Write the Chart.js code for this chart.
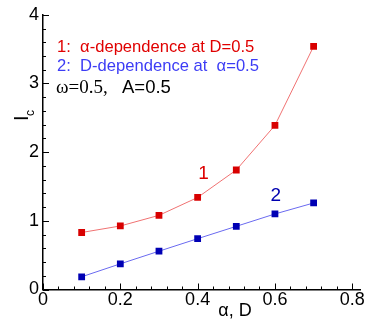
<!DOCTYPE html>
<html>
<head>
<meta charset="utf-8">
<script src="https://cdn.jsdelivr.net/npm/chart.js@4/dist/chart.umd.min.js"></script>
<style>
  html, body { margin: 0; padding: 0; background: #fff; }
  #wrap { position: relative; width: 368px; height: 327px; }
</style>
</head>
<body>
<div id="wrap"><canvas id="graphCanvas"></canvas></div>
<script>
// values
const xValues = [0.1, 0.2, 0.3, 0.4, 0.5, 0.6, 0.7];
const alphaDependence = [0.83, 0.925, 1.08, 1.34, 1.74, 2.39, 3.54];  // curve 1
const dDependence = [0.185, 0.374, 0.558, 0.74, 0.92, 1.10, 1.26];    // curve 2
const xTicks = [0, 0.2, 0.4, 0.6, 0.8];
const yTicks = [0, 1, 2, 3, 4];

// curve numbers, placed in data coordinates
const curveLabels = [
    { text: '1', x: 0.415, y: 1.68, color: '#dd0000' },
    { text: '2', x: 0.602, y: 1.37, color: '#0000b0' }
];

const sans = '"Liberation Sans", Arial, sans-serif';
const serif = '"Liberation Serif", "Times New Roman", serif';

function toPoints(ys) {
    return xValues.map((x, i) => ({ x: x, y: ys[i] }));
}

// inward tick marks, axis titles and the text block
const decorations = {
    id: 'decorations',
    afterDraw(chart) {
        const c = chart.ctx;
        const xs = chart.scales.x;
        const ys = chart.scales.y;
        const x0 = xs.getPixelForValue(0);
        const y0 = ys.getPixelForValue(0);
        c.save();
        c.strokeStyle = '#000';
        c.lineWidth = 1;
        c.beginPath();
        for (let i = 0; i <= 20; i++) {
            const v = i * 0.04;
            const px = Math.round(xs.getPixelForValue(v)) + 0.5;
            const len = i % 5 === 0 ? 6 : 3;
            c.moveTo(px, y0);
            c.lineTo(px, y0 - len);
        }
        for (let i = 0; i <= 20; i++) {
            const v = i * 0.2;
            const py = Math.round(ys.getPixelForValue(v)) + 0.5;
            const len = i % 5 === 0 ? 6 : 3;
            c.moveTo(x0, py);
            c.lineTo(x0 + len, py);
        }
        c.stroke();

        // curve numbers
        c.font = '19px ' + sans;
        c.textAlign = 'center';
        c.textBaseline = 'middle';
        curveLabels.forEach(l => {
            c.fillStyle = l.color;
            c.fillText(l.text, xs.getPixelForValue(l.x), ys.getPixelForValue(l.y));
        });

        // x title
        c.fillStyle = '#000';
        c.font = '18px ' + sans;
        c.textAlign = 'center';
        c.textBaseline = 'alphabetic';
        c.fillText('α, D', 235, 316);

        // y title I_c
        c.save();
        c.translate(28, 121);
        c.rotate(-Math.PI / 2);
        c.textAlign = 'left';
        c.font = '20px ' + sans;
        c.fillText('I', 0, 0);
        c.font = '12px ' + sans;
        c.fillText('c', 5, 6);
        c.restore();

        // text block
        c.textAlign = 'left';
        c.font = '16.6px ' + sans;
        c.fillStyle = '#e00000';
        c.fillText('1:  α-dependence at D=0.5', 57, 52);
        c.fillStyle = '#3c3cf5';
        c.fillText('2:  D-dependence at  α=0.5', 57, 71);
        c.fillStyle = '#000';
        c.font = '19px ' + serif;
        c.fillText('ω=0.5,', 56, 93);
        c.font = '18.5px ' + sans;
        c.fillText('A=0.5', 122, 93);
        c.restore();
    }
};

new Chart(document.getElementById('graphCanvas'), {
    type: 'scatter',
    data: {
        datasets: [
            {
                label: 'alpha-dependence at D=0.5',
                data: toPoints(alphaDependence),
                showLine: true,
                borderColor: '#f07272',
                borderWidth: 1,
                backgroundColor: '#d80000',
                pointBackgroundColor: '#d80000',
                pointBorderColor: '#d80000',
                pointBorderWidth: 0,
                pointStyle: 'rect',
                pointRadius: 4.8
            },
            {
                label: 'D-dependence at alpha=0.5',
                data: toPoints(dDependence),
                showLine: true,
                borderColor: '#6a6af0',
                borderWidth: 1,
                backgroundColor: '#0000b4',
                pointBackgroundColor: '#0000b4',
                pointBorderColor: '#0000b4',
                pointBorderWidth: 0,
                pointStyle: 'rect',
                pointRadius: 4.8
            }
        ]
    },
    options: {
        responsive: true,
        maintainAspectRatio: false,
        animation: false,
        layout: { padding: { top: 14, right: 8, left: 0, bottom: 0 } },
        plugins: { legend: { display: false }, tooltip: { enabled: false } },
        scales: {
            x: {
                type: 'linear',
                min: 0,
                max: 0.82,
                afterBuildTicks: s => { s.ticks = xTicks.map(v => ({ value: v })); },
                afterFit: s => { s.height = 37.5; },
                grid: { display: false, drawTicks: false },
                border: { display: true, color: '#000', width: 1.5 },
                ticks: {
                    color: '#000',
                    font: { family: sans, size: 18 },
                    padding: 0,
                    maxRotation: 0,
                    callback: v => String(v)
                }
            },
            y: {
                type: 'linear',
                min: 0,
                max: 4,
                afterBuildTicks: s => { s.ticks = yTicks.map(v => ({ value: v })); },
                afterFit: s => { s.width = 43; },
                grid: { display: false, drawTicks: false },
                border: { display: true, color: '#000', width: 1.5 },
                ticks: {
                    color: '#000',
                    font: { family: sans, size: 18 },
                    padding: 4,
                    callback: v => String(v)
                }
            }
        }
    },
    plugins: [decorations]
});
</script>
</body>
</html>
